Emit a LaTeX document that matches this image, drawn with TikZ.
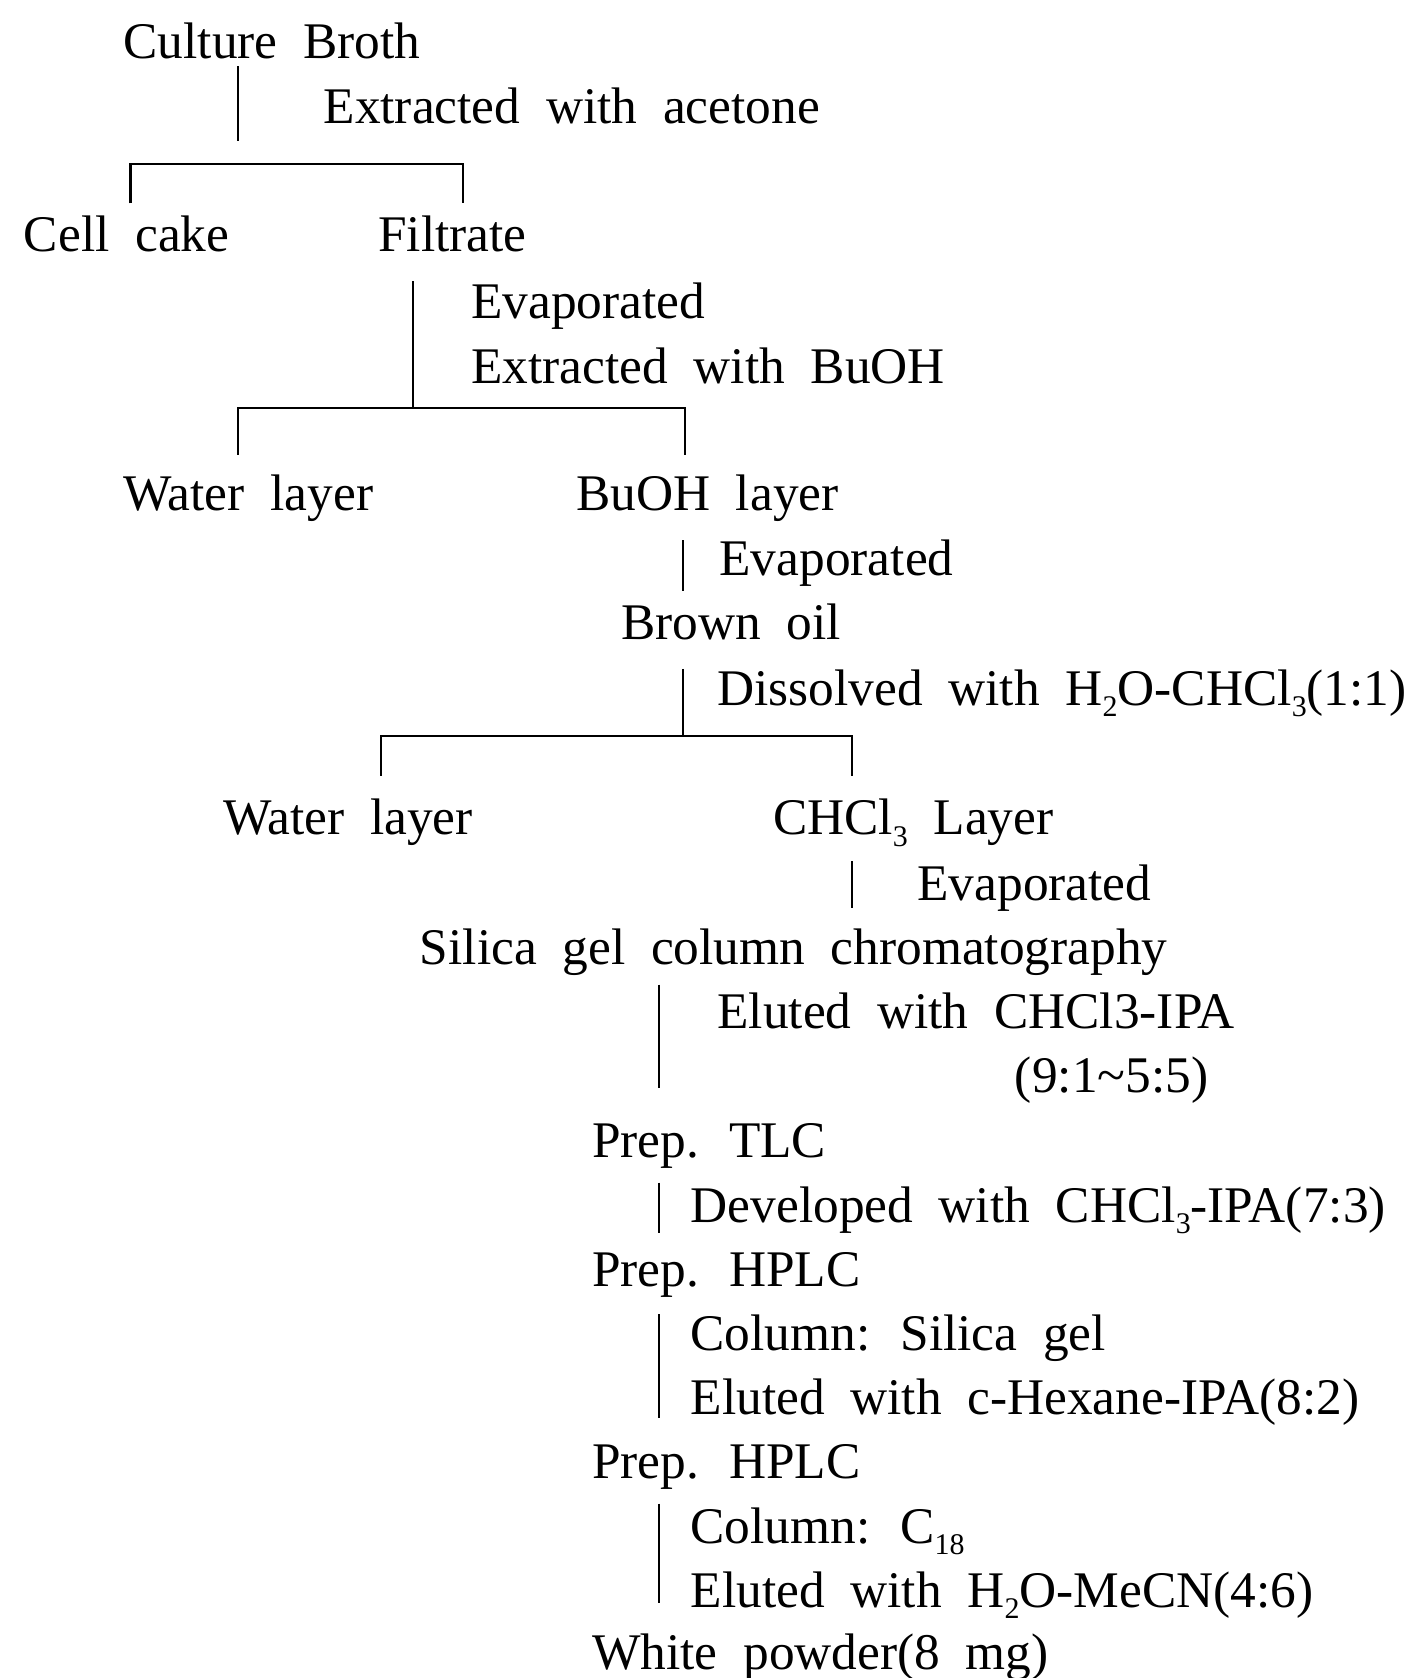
\documentclass[tikz,border=0pt]{standalone}
\usepackage{fontspec}
\setmainfont{Liberation Serif}[WordSpace=2.0]
\newcommand\chemsub[1]{\raisebox{-0.22em}{\fontsize{14}{14}\selectfont #1}}
\begin{document}
\begin{tikzpicture}[x=0.5pt,y=-0.5pt,
		every node/.style={anchor=base west,inner sep=0pt,font=\fontsize{24}{28}\selectfont},
		link/.style={line width=1pt}]
	\useasboundingbox (0,0) rectangle (1330,1568);
	% steps and conditions
	\node (broth) at (115,55) {Culture Broth};
	\node (acetone) at (302,115) {Extracted with acetone};
	\node (cake) at (22,235) {Cell cake};
	\node (filtrate) at (353,235) {Filtrate};
	\node (evapA) at (440,298) {Evaporated};
	\node (buext) at (440,358) {Extracted with BuOH};
	\node (waterA) at (115,477) {Water layer};
	\node (buoh) at (538,477) {BuOH layer};
	\node (evapB) at (672,538) {Evaporated};
	\node (oil) at (580,598) {Brown oil};
	\node (dissolve) at (670,659) {Dissolved with H\chemsub{2}O-CHCl\chemsub{3}(1:1)};
	\node (waterB) at (208,780) {Water layer};
	\node (chcl) at (722,780) {CHCl\chemsub{3} Layer};
	\node (evapC) at (857,841) {Evaporated};
	\node (silica) at (392,901) {Silica gel column chromatography};
	\node (eluteA) at (670,961) {Eluted with CHCl3-IPA};
	\node (ratio) at (948,1021) {(9:1\textasciitilde5:5)};
	\node (tlc) at (553,1082) {Prep. TLC};
	\node (develop) at (645,1142) {Developed with CHCl\chemsub{3}-IPA(7:3)};
	\node (hplcA) at (553,1202) {Prep. HPLC};
	\node (colA) at (645,1262) {Column: Silica gel};
	\node (eluteB) at (645,1322) {Eluted with c-Hexane-IPA(8:2)};
	\node (hplcB) at (553,1382) {Prep. HPLC};
	\node (colB) at (645,1442) {Column: C\chemsub{18}};
	\node (eluteC) at (645,1502) {Eluted with H\chemsub{2}O-MeCN(4:6)};
	\node (powder) at (553,1560) {White powder(8 mg)};
	% plain vertical strokes
	\coordinate (top1) at (222,62);   \coordinate (bot1) at (222,132);
	\coordinate (top2) at (638,505);  \coordinate (bot2) at (638,552);
	\coordinate (top3) at (796,805);  \coordinate (bot3) at (796,848);
	\coordinate (top4) at (616,920);  \coordinate (bot4) at (616,1017);
	\coordinate (top5) at (616,1105); \coordinate (bot5) at (616,1152);
	\coordinate (top6) at (616,1228); \coordinate (bot6) at (616,1325);
	\coordinate (top7) at (616,1405); \coordinate (bot7) at (616,1498);
	\foreach \i in {1,...,7} {
		\draw[link] (top\i) -- (bot\i);
	}
	% forks
	\coordinate (forkA) at (222,153);
	\coordinate (legAl) at (122,190); \coordinate (legAr) at (433,190);
	\draw[link] (legAl) -- (legAl |- forkA) -- (legAr |- forkA) -- (legAr);
	\coordinate (stemB) at (386,263); \coordinate (forkB) at (386,381);
	\coordinate (legBl) at (222,425); \coordinate (legBr) at (640,425);
	\draw[link] (stemB) -- (forkB);
	\draw[link] (legBl) -- (legBl |- forkB) -- (legBr |- forkB) -- (legBr);
	\coordinate (stemC) at (638,625); \coordinate (forkC) at (638,688);
	\coordinate (legCl) at (356,725); \coordinate (legCr) at (796,725);
	\draw[link] (stemC) -- (forkC);
	\draw[link] (legCl) -- (legCl |- forkC) -- (legCr |- forkC) -- (legCr);
\end{tikzpicture}
\end{document}
